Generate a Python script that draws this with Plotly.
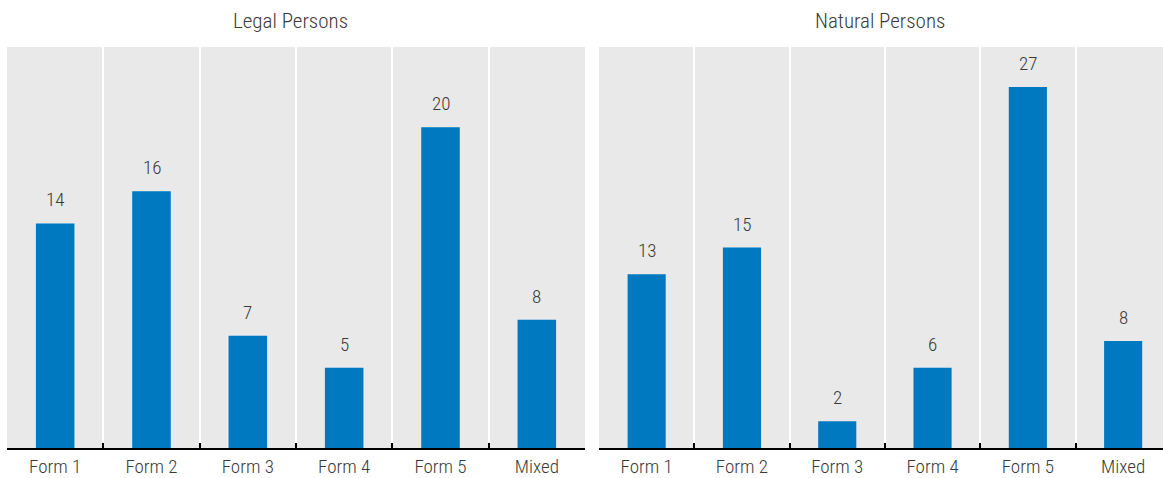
import plotly.graph_objects as go

categories = ["Form 1", "Form 2", "Form 3", "Form 4", "Form 5", "Mixed"]
legal_values = [14, 16, 7, 5, 20, 8]
natural_values = [13, 15, 2, 6, 27, 8]
panel_titles = ["Legal Persons", "Natural Persons"]

W, H = 1163, 478
BAR = "#0079c1"
BG = "#e9e9e9"
TXT = "#3a3a3a"
FONT = "Roboto Condensed, Liberation Sans Narrow, Roboto"
FW = 300

fig = go.Figure()
fig.add_trace(go.Bar(x=categories, y=legal_values, width=0.4, marker=dict(color=BAR, line=dict(width=0)),
                     xaxis="x", yaxis="y", hoverinfo="skip"))
fig.add_trace(go.Bar(x=categories, y=natural_values, width=0.4, marker=dict(color=BAR, line=dict(width=0)),
                     xaxis="x2", yaxis="y2", hoverinfo="skip"))

annotations = []
for xa, ya, vals in [("x", "y", legal_values), ("x2", "y2", natural_values)]:
    for c, v in zip(categories, vals):
        annotations.append(dict(x=c, y=v, xref=xa, yref=ya, text=str(v), showarrow=False,
                                yanchor="bottom", yshift=10,
                                font=dict(size=19, color=TXT, family=FONT, weight=FW)))

annotations.append(dict(x=290 / W, y=1, xref="paper", yref="paper", yshift=12, text=panel_titles[0],
                        showarrow=False, xanchor="center", yanchor="bottom",
                        font=dict(size=21, color=TXT, family=FONT, weight=FW)))
annotations.append(dict(x=880 / W, y=1, xref="paper", yref="paper", yshift=12, text=panel_titles[1],
                        showarrow=False, xanchor="center", yanchor="bottom",
                        font=dict(size=21, color=TXT, family=FONT, weight=FW)))

xcommon = dict(type="category", tickson="boundaries", showgrid=True, gridcolor="white", gridwidth=2,
               ticks="inside", ticklen=5, tickcolor="black", tickwidth=1.5,
               showline=True, linecolor="black", linewidth=1.5,
               tickfont=dict(size=19, color=TXT, family=FONT, weight=FW), ticklabelstandoff=0,
               fixedrange=True, zeroline=False)
ycommon = dict(visible=False, showgrid=False, zeroline=False, fixedrange=True)

fig.update_layout(
    width=W, height=H,
    margin=dict(l=0, r=0, t=47, b=27),
    paper_bgcolor="white", plot_bgcolor=BG,
    showlegend=False,
    font=dict(family=FONT, color=TXT),
    xaxis=dict(domain=[7 / W, 585 / W], range=[-0.5, 5.5], anchor="y", **xcommon),
    yaxis=dict(domain=[0, 1], range=[0, 25], anchor="x", **ycommon),
    xaxis2=dict(domain=[599 / W, 1.0], range=[-0.5, -0.5 + (W - 599) / 95.3], anchor="y2", **xcommon),
    yaxis2=dict(domain=[0, 1], range=[0, 30], anchor="x2", **ycommon),
    annotations=annotations,
    bargap=0.6,
)

fig.write_html("out.html", config={"displayModeBar": False},
               post_script="document.body.style.margin='0';document.body.style.overflow='hidden';")
